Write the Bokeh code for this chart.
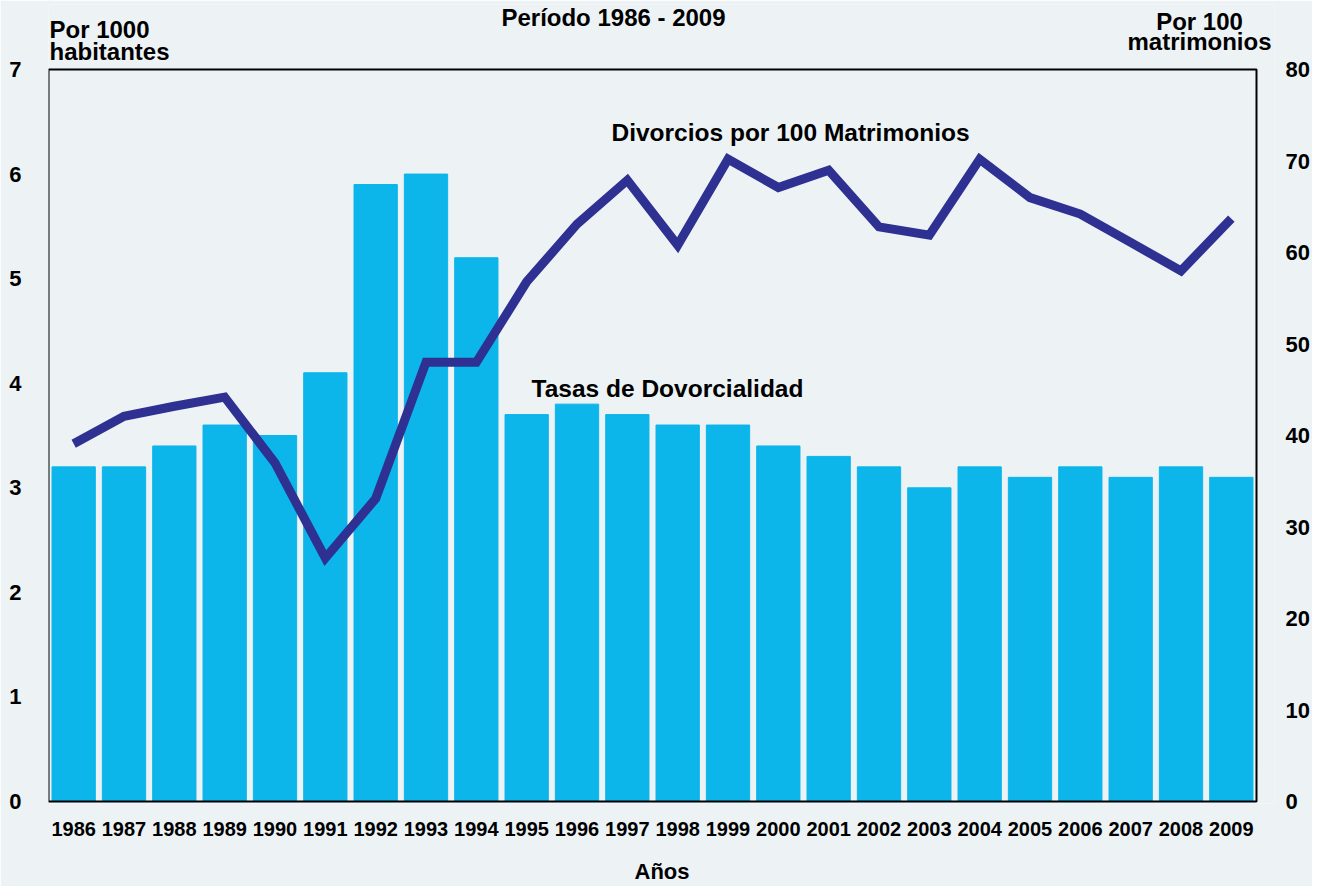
from bokeh.plotting import figure
from bokeh.models import Range1d, LinearAxis, FixedTicker, Label, ColumnDataSource
from bokeh.embed import file_html
from bokeh.resources import INLINE

years = list(range(1986, 2010))
tasas = [3.2, 3.2, 3.4, 3.6, 3.5, 4.1, 5.9, 6.0, 5.2, 3.7, 3.8, 3.7,
         3.6, 3.6, 3.4, 3.3, 3.2, 3.0, 3.2, 3.1, 3.2, 3.1, 3.2, 3.1]
divorcios = [39.1, 42.1, 43.2, 44.2, 37.0, 26.6, 33.1, 48.0, 48.0, 56.8, 63.1, 67.9,
             60.8, 70.2, 67.1, 69.0, 62.8, 61.9, 70.2, 66.0, 64.2, 61.1, 58.0, 63.7]
left_ticks = [0, 1, 2, 3, 4, 5, 6, 7]
right_ticks = [0, 10, 20, 30, 40, 50, 60, 70, 80]

BG = "#edf3f5"
BAR = "#0cb5ea"
LINE = "#2e3192"
FONT = "Liberation Sans"

# layout (pixels): the drawn chart box, plus extra room inside the frame so that
# the header texts above the box are not clipped
BOX_W, BOX_H = 1208, 732
PAD_TOP, PAD_RIGHT, PAD_BOTTOM = 65, 19, 2

x0 = years[0] - 0.5
x1 = years[-1] + 0.5
px_x = BOX_W / (x1 - x0)
ytop_l = left_ticks[-1]
ytop_r = right_ticks[-1]
px_l = BOX_H / ytop_l
px_r = BOX_H / ytop_r

src = ColumnDataSource(dict(year=years, tasa=tasas, div=divorcios))

p = figure(x_range=Range1d(x0, x1 + PAD_RIGHT / px_x),
           y_range=Range1d(-PAD_BOTTOM / px_l, ytop_l + PAD_TOP / px_l),
           frame_width=BOX_W + PAD_RIGHT, frame_height=BOX_H + PAD_TOP + PAD_BOTTOM,
           min_border_left=48, min_border_right=37, min_border_top=4, min_border_bottom=0,
           output_backend="svg", toolbar_location=None)
p.background_fill_color = BG
p.border_fill_color = BG
p.outline_line_color = None
p.xgrid.visible = False
p.ygrid.visible = False

p.extra_y_ranges = {"right": Range1d(-PAD_BOTTOM / px_r, ytop_r + PAD_TOP / px_r)}

p.vbar(x="year", top="tasa", width=0.86, color=BAR, source=src)
p.line(x="year", y="div", line_width=9, color=LINE, line_join="miter",
       y_range_name="right", source=src)
# chart box
p.quad(left=[x0], right=[x1], bottom=[0], top=[ytop_l], fill_color=None,
       line_color="black", line_width=2)

def style_axis(ax, size="22px"):
    ax.axis_line_color = None
    ax.major_tick_line_color = None
    ax.minor_tick_line_color = None
    ax.major_tick_out = 0
    ax.major_tick_in = 0
    ax.minor_tick_out = 0
    ax.minor_tick_in = 0
    ax.major_label_text_font = FONT
    ax.major_label_text_font_style = "bold"
    ax.major_label_text_font_size = size
    ax.major_label_text_color = "black"

ly = p.yaxis[0]
ly.ticker = FixedTicker(ticks=left_ticks)
style_axis(ly)
ly.major_label_standoff = 27

ry = LinearAxis(y_range_name="right", ticker=FixedTicker(ticks=right_ticks))
style_axis(ry)
ry.major_label_standoff = 10
p.add_layout(ry, "right")

bx = p.xaxis[0]
bx.ticker = FixedTicker(ticks=years)
bx.major_label_overrides = {y: str(y) for y in years}
style_axis(bx, "20px")
bx.major_label_standoff = 18
bx.axis_label = "Años"
bx.axis_label_text_font = FONT
bx.axis_label_text_font_style = "bold"
bx.axis_label_text_font_size = "22px"
bx.axis_label_standoff = 20
bx.axis_label_text_color = "black"

def lab(text, xo, yo, align="left", baseline="alphabetic", size="24px"):
    p.add_layout(Label(x=x0, y=ytop_l, x_offset=xo, y_offset=yo, text=text,
                       text_align=align, text_baseline=baseline,
                       text_font=FONT, text_font_style="bold",
                       text_font_size=size, text_color="black"))

lab("Por 1000", 1, 40)
lab("habitantes", 1, 18)
lab("Por 100", 1151, 48, align="center")
lab("matrimonios", 1151, 28, align="center")
lab("Período 1986 - 2009", 565, 52, align="center")
lab("Divorcios por 100 Matrimonios", 742, -63, align="center", baseline="middle", size="24.5px")
lab("Tasas de Dovorcialidad", 619, -319, align="center", baseline="middle", size="24.5px")

open("out.html", "w").write(file_html(p, INLINE))
